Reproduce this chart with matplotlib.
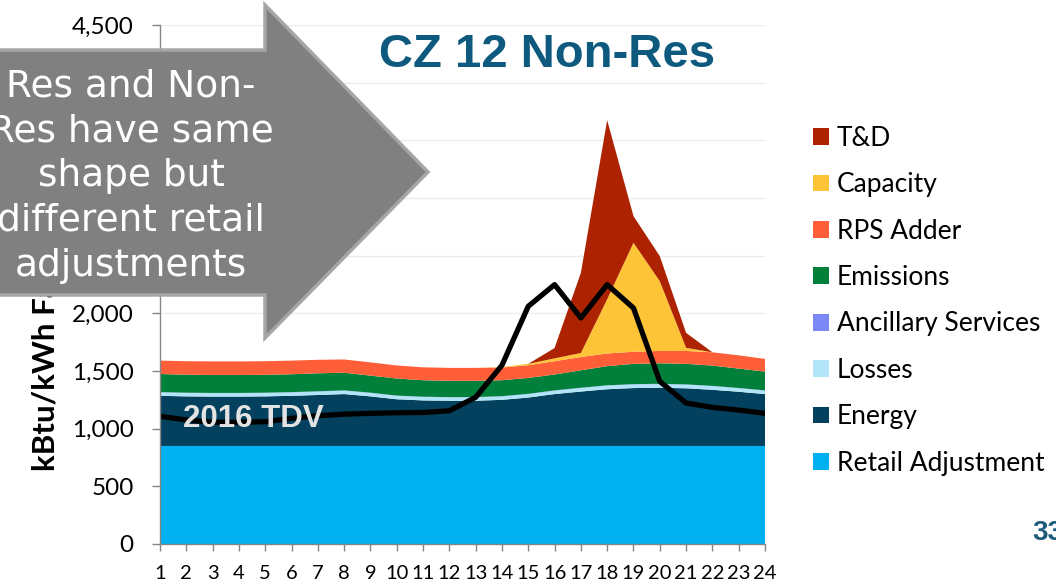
import matplotlib.pyplot as plt
from matplotlib.patches import Patch, Polygon

# hourly values, kBtu/kWh
hours = list(range(1, 25))
retail_adj = [850] * 24
energy = [435, 430, 428, 428, 430, 435, 442, 450, 430, 405, 395, 392,
          392, 400, 420, 450, 472, 492, 502, 505, 500, 487, 470, 450]
losses = [30, 30, 30, 30, 30, 30, 30, 30, 30, 30, 30, 30,
          30, 30, 30, 30, 31, 32, 32, 32, 32, 32, 31, 30]
ancillary = [2] * 24
emissions = [157, 156, 155, 155, 155, 155, 156, 153, 148, 148, 143, 141,
             141, 138, 138, 138, 151, 166, 176, 178, 178, 176, 168, 163]
rps_adder = [116, 117, 118, 118, 118, 118, 117, 115, 115, 113, 112, 112,
             112, 110, 110, 115, 115, 110, 105, 107, 112, 115, 115, 110]
capacity = [0, 0, 0, 0, 0, 0, 0, 0, 0, 0, 0, 0,
            0, 5, 12, 25, 35, 470, 945, 605, 27, 0, 0, 0]
t_and_d = [0, 0, 0, 0, 0, 0, 0, 0, 0, 0, 0, 0,
           0, 0, 0, 89, 695, 1553, 231, 217, 130, 0, 0, 0]
tdv_2016 = [1107, 1076, 1056, 1056, 1060, 1090, 1113, 1125, 1133, 1138, 1140, 1155,
            1272, 1550, 2061, 2249, 1960, 2249, 2046, 1410, 1222, 1185, 1161, 1133]

series_labels = ["Retail Adjustment", "Energy", "Losses", "Ancillary Services",
                 "Emissions", "RPS Adder", "Capacity", "T&D"]
series_colors = ["#00b0f0", "#03415f", "#b3e5f8", "#7b88f5",
                 "#00803a", "#fe5f38", "#fdc437", "#ad2200"]

W, H = 1056, 582
fig = plt.figure(figsize=(W / 100, H / 100), dpi=100)
ax = fig.add_axes([160 / W, 1 - 544 / H, 605 / W, 519 / H])

ax.stackplot(hours, retail_adj, energy, losses, ancillary, emissions,
             rps_adder, capacity, t_and_d, colors=series_colors,
             labels=series_labels, linewidth=0, zorder=2)
ax.plot(hours, tdv_2016, color="black", linewidth=3.8, zorder=3)

ax.set_xlim(1, 24)
ax.set_ylim(0, 4500)
ax.set_xticks(hours)
ax.set_xticklabels([str(h) for h in hours], fontfamily="Lato", fontsize=14.5)
ax.set_yticks(range(0, 4501, 500))
ax.set_yticklabels([f"{v:,}" for v in range(0, 4501, 500)],
                   fontfamily="Lato", fontsize=17.5)
ax.tick_params(axis="x", length=5, width=1, color="#868686", pad=10)
ax.tick_params(axis="y", length=6, width=1, color="#868686", pad=13)
ax.grid(axis="y", color="#ececec", linewidth=1, zorder=0)
ax.set_axisbelow(True)
for side in ["top", "right"]:
    ax.spines[side].set_visible(False)
for side in ["left", "bottom"]:
    ax.spines[side].set_color("#868686")
    ax.spines[side].set_linewidth(1)
    ax.spines[side].set_zorder(4)

ax.set_ylabel("kBtu/kWh Factor", loc="bottom", fontfamily="Lato",
              fontweight="bold", fontsize=22.5)
ax.yaxis.set_label_coords(-0.166, 0.14)

fig.text(253 / W, 1 - 427 / H, "2016 TDV", color="#e3e3e3",
         fontfamily="Liberation Sans", fontweight="bold", fontsize=22.5,
         ha="center", va="baseline", zorder=5)

# legend, top entry is T&D
handles = [Patch(facecolor=c, edgecolor="none") for c in series_colors][::-1]
fig.legend(handles, series_labels[::-1], loc="upper left",
           bbox_to_anchor=(813 / W, 1 - 126 / H), frameon=False,
           prop={"family": "Lato", "size": 19}, handlelength=0.6,
           handleheight=0.6, handletextpad=0.3, labelspacing=0.81,
           borderpad=0, borderaxespad=0)

fig.text(547 / W, 1 - 67 / H, "CZ 12 Non-Res", color="#0e5a7f",
         fontfamily="Liberation Sans", fontweight="bold", fontsize=34,
         ha="center", va="baseline")
fig.text(1032 / W, 1 - 540 / H, "33", color="#1b5a7a",
         fontfamily="Liberation Sans", fontweight="bold", fontsize=20,
         ha="left", va="baseline")

# grey callout arrow
arrow_px = [(-10, 50), (265, 50), (265, 5), (428, 172),
            (265, 338), (265, 295), (-10, 295)]
arrow = Polygon([(x / W, 1 - y / H) for x, y in arrow_px], closed=True,
                transform=fig.transFigure, facecolor="#808080",
                edgecolor="#a6a6a6", linewidth=2.5, zorder=10)
fig.patches.append(arrow)
fig.text(131 / W, 1 - 176 / H,
         "Res and Non-\nRes have same\nshape but\ndifferent retail\nadjustments",
         color="white", fontfamily="DejaVu Sans", fontsize=27,
         ha="center", va="center", linespacing=1.32, zorder=11)

plt.savefig("out.png", dpi=100)
plt.close()
